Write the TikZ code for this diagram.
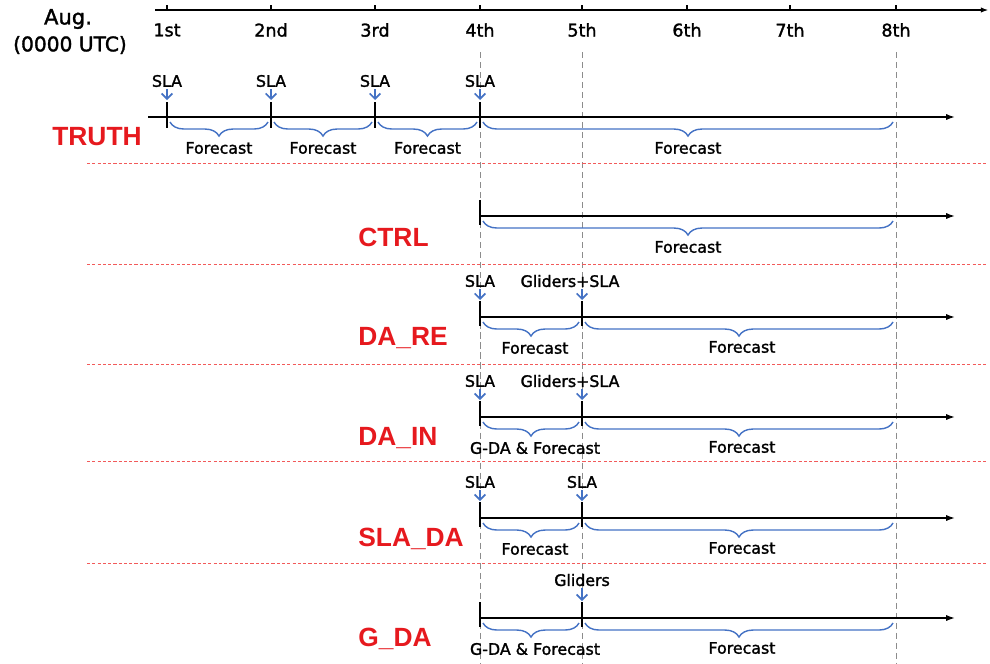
\documentclass[tikz,border=0pt]{standalone}
\usepackage{fontspec}
\setmainfont{DejaVu Sans}
\newfontfamily\medfont[FakeBold=1.6]{DejaVu Sans}
\newfontfamily\runfont{Liberation Sans}
\usetikzlibrary{arrows.meta,decorations.pathreplacing}
\definecolor{runred}{RGB}{230,25,30}
\definecolor{obsblue}{RGB}{68,114,196}
\definecolor{seppink}{RGB}{242,90,90}

\begin{document}
\begin{tikzpicture}[x=0.02cm,y=-0.02cm,
    txt/.style={font=\medfont\fontsize{9}{10}\selectfont,inner sep=1pt},
    day/.style={font=\medfont\fontsize{10}{12}\selectfont,inner sep=0pt},
    run/.style={font=\runfont\bfseries\fontsize{15}{18}\selectfont,text=runred,anchor=west,inner sep=0pt},
    tline/.style={line width=0.9pt,-{Latex[length=5pt,width=3.5pt]}},
    tick/.style={line width=1.2pt},
    obs/.style={obsblue,line width=1pt,-{Straight Barb[length=3pt,width=6pt]}},
    brc/.style={obsblue,line width=0.8pt,decorate,decoration={brace,mirror,amplitude=8pt}},
    sep/.style={seppink,line width=0.5pt,dash pattern=on 1.8pt off 1.2pt},
    vgrid/.style={black!45,line width=0.5pt,dash pattern=on 3.5pt off 2.2pt}]
  \useasboundingbox (0,0) rectangle (990,663);
  % dates
  \coordinate (t0) at (155,10);
  \coordinate (t1) at (988,10);
  \draw[line width=0.6pt,-{Latex[length=4pt,width=3pt]}] (t0) -- (t1);
  \foreach \d/\x/\t in {1/167/1st,2/271/2nd,3/375/3rd,4/480/4th,5/582/5th,6/687/6th,7/790/7th,8/896/8th}{
    \coordinate (d\d) at (\x,10);
    \draw[line width=0.6pt] (d\d) -- ++(0,-5);
    \node[day] (l\d) at (\x,30) {\t};
  }
  \node[font=\medfont\fontsize{12}{14}\selectfont] (aug) at (68,19) {Aug.};
  \node[font=\medfont\fontsize{11.5}{14}\selectfont] (utc) at (70,45) {(0000 UTC)};
  \foreach \x in {480,582,896} \draw[vgrid] (\x,52) -- (\x,663);
  \foreach \y in {163,264,364,461,563} \draw[sep] (87,\y) -- (988,\y);
  % truth run
  \begin{scope}[shift={(0,117)}]
    \node[run] (truth) at (52,20) {TRUTH};
    \coordinate (tr0) at (148,0);
    \coordinate (tr1) at (955,0);
    \draw[tline] (tr0) -- (tr1);
    \foreach \x in {167,271,375,480}{
      \draw[tick] (\x,-15) -- (\x,11);
      \node[txt] (trs\x) at (\x,-36) {SLA};
      \draw[obs] (trs\x) -- (\x,-17);
    }
    \foreach \a/\b in {170/268,274/372,378/477,483/893}{
      \draw[brc] (\a,5) -- (\b,5);
      \node[txt] (trf\a) at ({(\a+\b)/2},31) {Forecast};
    }
  \end{scope}
  % the experiments
  \foreach \y/\n/\r in {216/CTRL/ctrl,317/DA\_RE/dare,417/DA\_IN/dain,518/SLA\_DA/slada,618/G\_DA/gda}{
    \node[run] (\r) at (358,\y+21) {\n};
    \coordinate (\r0) at (480,\y);
    \coordinate (\r1) at (955,\y);
    \draw[tline] (\r0) -- (\r1);
    \draw[tick] (480,\y-16) -- (480,\y+9);
  }
  \draw[brc] (483,221) -- (893,221);
  \node[txt] (ctrlf) at (688,247) {Forecast};
  \foreach \y/\f in {317/Forecast,417/G-DA \& Forecast,518/Forecast,618/G-DA \& Forecast}{
    \draw[tick] (582,\y-16) -- (582,\y+9);
    \draw[brc] (483,\y+5) -- (579,\y+5);
    \draw[brc] (585,\y+5) -- (893,\y+5);
    \node[txt] (fa\y) at (535,\y+31) {\f};
    \node[txt] (fb\y) at (742,\y+30) {Forecast};
  }
  % observations
  \foreach \y in {317,417,518}{
    \coordinate (oa\y) at (480,\y-17);
    \coordinate (ob\y) at (582,\y-17);
    \node[txt] (sa\y) at (480,\y-36) {SLA};
    \draw[obs] (sa\y) -- (oa\y);
  }
  \node[txt] (gs317) at (570,281) {Gliders+SLA};
  \node[txt] (gs417) at (570,381) {Gliders+SLA};
  \node[txt] (sb518) at (582,482) {SLA};
  \node[txt] (gl618) at (582,580) {Gliders};
  \coordinate (ob618) at (582,601);
  \draw[obs] (gs317.south -| ob317) -- (ob317);
  \draw[obs] (gs417.south -| ob417) -- (ob417);
  \draw[obs] (sb518) -- (ob518);
  \draw[obs] (gl618) -- (ob618);
\end{tikzpicture}
\end{document}
